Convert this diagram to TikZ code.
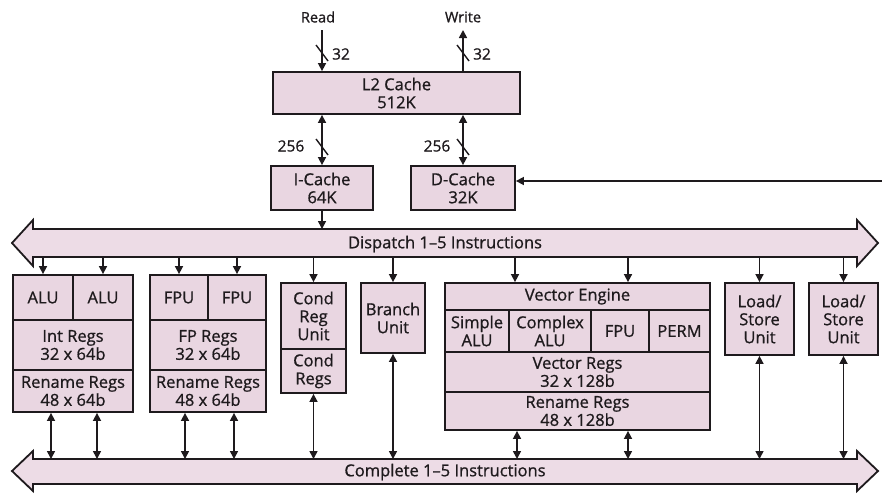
\documentclass[tikz,border=0pt]{standalone}
\usepackage{fontspec}
\setmainfont[FakeBold=0.9]{Open Sans}
\usetikzlibrary{arrows.meta,calc}
\definecolor{pinkfill}{RGB}{233,214,225}
\definecolor{busfill}{RGB}{237,220,230}
\definecolor{ink}{RGB}{30,26,29}
\begin{document}
\begin{tikzpicture}[x=1pt,y=-1pt,
  blk/.style={draw=ink, fill=pinkfill, line width=1.8pt, inner sep=0pt, align=center,
    font=\fontsize{16.5}{18}\selectfont, text=ink},
  arr/.style={draw=ink, line width=1.6pt, -{Triangle[length=8pt,width=8pt]}},
  barr/.style={draw=ink, line width=1.6pt, {Triangle[length=8pt,width=8pt]}-{Triangle[length=8pt,width=8pt]}},
  busshape/.style={draw=ink, fill=busfill, line width=1.8pt, line join=miter},
  lbl/.style={font=\fontsize{14.5}{16}\selectfont, text=ink, inner sep=0pt},
  wlbl/.style={font=\fontsize{15.5}{17}\selectfont, text=ink, inner sep=0pt},
  buslbl/.style={font=\fontsize{16.5}{18}\selectfont, text=ink, inner sep=0pt},
  slashmark/.style={draw=ink, line width=1.4pt}
]
\useasboundingbox (0,0) rectangle (882,493);

% ---------- top: L2 cache ----------
\node[blk, minimum width=247pt, minimum height=42pt] (l2) at (396.5,93) {L2 Cache\\512K};
\node[lbl] (read) at (318,17) {Read};
\node[lbl] (write) at (463,17) {Write};
\coordinate (readtop) at (322,30);
\coordinate (writetop) at (463,30);
\draw[arr] (readtop) -- (readtop |- l2.north);
\draw[arr] (writetop |- l2.north) -- (writetop);
\coordinate (rs) at (322,53);
\coordinate (ws) at (463,53);
\draw[slashmark] ([shift={(-6,-8)}]rs) -- ([shift={(6,8)}]rs);
\draw[slashmark] ([shift={(-6,-8)}]ws) -- ([shift={(6,8)}]ws);
\node[wlbl] (r32) at (341,54) {32};
\node[wlbl] (w32) at (482,54) {32};

% ---------- caches ----------
\node[blk, minimum width=102pt, minimum height=44pt] (icache) at (322,188) {I-Cache\\64K};
\node[blk, minimum width=104pt, minimum height=44pt] (dcache) at (463,188) {D-Cache\\32K};
\draw[barr] (icache.north |- l2.south) -- (icache.north);
\draw[barr] (dcache.north |- l2.south) -- (dcache.north);
\coordinate (is) at (322,147);
\coordinate (ds) at (463,147);
\draw[slashmark] ([shift={(-6,-8)}]is) -- ([shift={(6,8)}]is);
\draw[slashmark] ([shift={(-6,-8)}]ds) -- ([shift={(6,8)}]ds);
\node[wlbl] (i256) at (291,146) {256};
\node[wlbl] (d256) at (437,146) {256};
\coordinate (din) at (882,181);
\draw[arr] (din) -- (din -| dcache.east);

% ---------- dispatch bus ----------
\path[busshape] (12,243) -- (33,220) -- (33,229) -- (857,229) -- (857,220) -- (878,243)
  -- (857,266) -- (857,257) -- (33,257) -- (33,266) -- cycle;
\node[buslbl] (dispatch) at (445,244) {Dispatch 1–5 Instructions};
\coordinate (dtop) at (445,229);
\coordinate (dbot) at (445,257);
\draw[arr] (icache.south) -- (icache.south |- dtop);

% ---------- complete bus ----------
\path[busshape] (12,471) -- (33,451) -- (33,459) -- (857,459) -- (857,451) -- (878,471)
  -- (857,491) -- (857,484) -- (33,484) -- (33,491) -- cycle;
\node[buslbl] (complete) at (445,472) {Complete 1–5 Instructions};
\coordinate (ctop) at (445,459);

% ---------- integer block ----------
\node[blk, minimum width=60pt, minimum height=45pt] (alu1) at (43,297.5) {ALU};
\node[blk, minimum width=60pt, minimum height=45pt] (alu2) at (103,297.5) {ALU};
\node[blk, minimum width=120pt, minimum height=50pt] (intregs) at (73,345) {Int Regs\\32 x 64b};
\node[blk, minimum width=120pt, minimum height=42pt] (intren) at (73,391) {Rename Regs\\48 x 64b};

% ---------- FP block ----------
\node[blk, minimum width=58pt, minimum height=45pt] (fpu1) at (179,297.5) {FPU};
\node[blk, minimum width=58pt, minimum height=45pt] (fpu2) at (237,297.5) {FPU};
\node[blk, minimum width=116pt, minimum height=50pt] (fpregs) at (208,345) {FP Regs\\32 x 64b};
\node[blk, minimum width=116pt, minimum height=42pt] (fpren) at (208,391) {Rename Regs\\48 x 64b};

% ---------- condition / branch ----------
\node[blk, minimum width=65pt, minimum height=66pt] (condunit) at (313.5,316) {Cond\\Reg\\Unit};
\node[blk, minimum width=65pt, minimum height=44pt] (condregs) at (313.5,371) {Cond\\Regs};
\node[blk, minimum width=64pt, minimum height=70pt] (branch) at (393,318) {Branch\\Unit};

% ---------- vector engine ----------
\node[blk, minimum width=265pt, minimum height=27pt] (veng) at (577.5,296.5) {Vector Engine};
\node[blk, minimum width=64pt, minimum height=42pt] (salu) at (477,331) {Simple\\ALU};
\node[blk, minimum width=82pt, minimum height=42pt] (calu) at (550,331) {Complex\\ALU};
\node[blk, minimum width=58pt, minimum height=42pt] (vfpu) at (620,331) {FPU};
\node[blk, minimum width=61pt, minimum height=42pt] (perm) at (679.5,331) {PERM};
\node[blk, minimum width=265pt, minimum height=40pt] (vregs) at (577.5,372) {Vector Regs\\32 x 128b};
\node[blk, minimum width=265pt, minimum height=38pt] (vren) at (577.5,411) {Rename Regs\\48 x 128b};

% ---------- load/store ----------
\node[blk, minimum width=69pt, minimum height=72pt] (ls1) at (759.5,319) {Load/\\Store\\Unit};
\node[blk, minimum width=69pt, minimum height=72pt] (ls2) at (843.5,319) {Load/\\Store\\Unit};

% ---------- dispatch arrows ----------
\draw[arr] (alu1.north |- dbot) -- (alu1.north);
\draw[arr] (alu2.north |- dbot) -- (alu2.north);
\draw[arr] (fpu1.north |- dbot) -- (fpu1.north);
\draw[arr] (fpu2.north |- dbot) -- (fpu2.north);
\draw[arr] (condunit.north |- dbot) -- (condunit.north);
\draw[arr] (branch.north |- dbot) -- (branch.north);
\coordinate (v1) at (515,0);
\coordinate (v2) at (628,0);
\draw[arr] (v1 |- dbot) -- (v1 |- veng.north);
\draw[arr] (v2 |- dbot) -- (v2 |- veng.north);
\draw[arr] (ls1.north |- dbot) -- (ls1.north);
\draw[arr] (ls2.north |- dbot) -- (ls2.north);

% ---------- complete arrows ----------
\coordinate (b1) at (51,0);
\coordinate (b2) at (97,0);
\coordinate (b3) at (185,0);
\coordinate (b4) at (234,0);
\draw[barr] (b1 |- intren.south) -- (b1 |- ctop);
\draw[barr] (b2 |- intren.south) -- (b2 |- ctop);
\draw[barr] (b3 |- fpren.south) -- (b3 |- ctop);
\draw[barr] (b4 |- fpren.south) -- (b4 |- ctop);
\draw[barr] (condregs.south) -- (condregs.south |- ctop);
\draw[barr] (branch.south) -- (branch.south |- ctop);
\coordinate (v3) at (517,0);
\draw[barr] (v3 |- vren.south) -- (v3 |- ctop);
\draw[barr] (v2 |- vren.south) -- (v2 |- ctop);
\draw[barr] (ls1.south) -- (ls1.south |- ctop);
\draw[barr] (ls2.south) -- (ls2.south |- ctop);
\end{tikzpicture}
\end{document}
